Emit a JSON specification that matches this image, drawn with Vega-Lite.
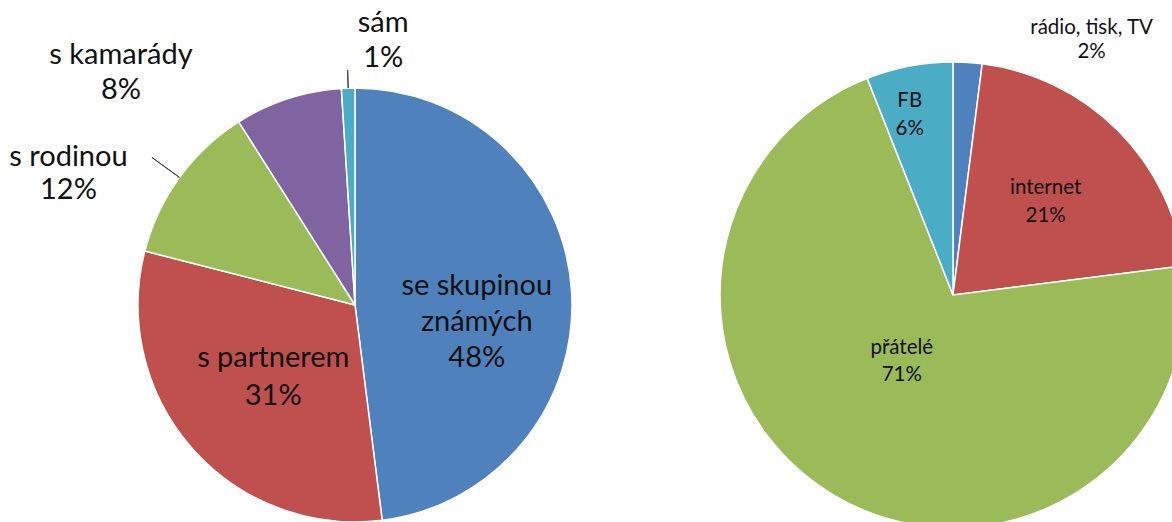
{
  "$schema": "https://vega.github.io/schema/vega-lite/v6.json",
  "padding": 0,
  "spacing": 0,
  "background": "white",
  "config": {"view": {"stroke": null}, "text": {"font": "Lato", "color": "#111111"}},
  "datasets": {
    "left": [
      {"idx": 1, "cat": "se skupinou známých", "value": 48, "label": "se skupinou\nznámých\n48%"},
      {"idx": 2, "cat": "s partnerem", "value": 31, "label": "s partnerem\n31%"},
      {"idx": 3, "cat": "s rodinou", "value": 12, "label": "s rodinou\n12%"},
      {"idx": 4, "cat": "s kamarády", "value": 8, "label": "s kamarády\n8%"},
      {"idx": 5, "cat": "sám", "value": 1, "label": "sám\n1%"}
    ],
    "right": [
      {"idx": 1, "cat": "rádio, tisk, TV", "value": 2, "label": "rádio, tisk, TV\n2%"},
      {"idx": 2, "cat": "internet", "value": 21, "label": "internet\n21%"},
      {"idx": 3, "cat": "přátelé", "value": 71, "label": "přátelé\n71%"},
      {"idx": 4, "cat": "FB", "value": 6, "label": "FB\n6%"}
    ]
  },
  "hconcat": [
    {
      "width": 710,
      "height": 610,
      "data": {"name": "left"},
      "encoding": {
        "theta": {"field": "value", "type": "quantitative", "stack": true},
        "order": {"field": "idx", "type": "quantitative"}
      },
      "layer": [
        {
          "mark": {"type": "arc", "radius": 217, "stroke": "white", "strokeWidth": 1.5},
          "encoding": {
            "color": {"field": "cat", "type": "nominal", "legend": null,
              "scale": {"domain": ["se skupinou známých", "s partnerem", "s rodinou", "s kamarády", "sám"],
                        "range": ["#4F81BD", "#C0504D", "#9BBB59", "#8064A2", "#4BACC6"]}}
          }
        },
        {
          "mark": {"type": "arc", "radius": 251, "radius2": 217, "padAngle": 1, "filled": false, "strokeWidth": 1},
          "encoding": {
            "stroke": {"condition": {"test": "datum.idx === 3", "value": "#404040"}, "value": "transparent"}
          }
        },
        {
          "mark": {"type": "arc", "radius": 235, "radius2": 217, "padAngle": 1, "filled": false, "strokeWidth": 1},
          "encoding": {
            "stroke": {"condition": {"test": "datum.idx === 5", "value": "#404040"}, "value": "transparent"}
          }
        },
        {
          "mark": {"type": "text", "radius": 122, "dy": -11, "fontSize": 29, "lineHeight": 36, "lineBreak": "\n"},
          "encoding": {"text": {"condition": {"test": "datum.idx === 1", "field": "label"}, "value": ""}}
        },
        {
          "mark": {"type": "text", "radius": 109, "dy": -19, "fontSize": 29, "lineHeight": 38, "lineBreak": "\n"},
          "encoding": {"text": {"condition": {"test": "datum.idx === 2", "field": "label"}, "value": ""}}
        },
        {
          "mark": {"type": "text", "radius": 217, "dx": -111, "dy": -20, "fontSize": 29, "lineHeight": 33, "lineBreak": "\n"},
          "encoding": {"text": {"condition": {"test": "datum.idx === 3", "field": "label"}, "value": ""}}
        },
        {
          "mark": {"type": "text", "radius": 217, "dx": -167, "dy": -44, "fontSize": 29, "lineHeight": 35, "lineBreak": "\n"},
          "encoding": {"text": {"condition": {"test": "datum.idx === 4", "field": "label"}, "value": ""}}
        },
        {
          "mark": {"type": "text", "radius": 217, "dx": 35, "dy": -65, "fontSize": 29, "lineHeight": 35, "lineBreak": "\n"},
          "encoding": {"text": {"condition": {"test": "datum.idx === 5", "field": "label"}, "value": ""}}
        }
      ]
    },
    {
      "width": 486,
      "height": 590,
      "data": {"name": "right"},
      "encoding": {
        "theta": {"field": "value", "type": "quantitative", "stack": true},
        "order": {"field": "idx", "type": "quantitative"}
      },
      "layer": [
        {
          "mark": {"type": "arc", "radius": 233, "stroke": "white", "strokeWidth": 1.5},
          "encoding": {
            "color": {"field": "cat", "type": "nominal", "legend": null,
              "scale": {"domain": ["rádio, tisk, TV", "internet", "přátelé", "FB"],
                        "range": ["#4F81BD", "#C0504D", "#9BBB59", "#4BACC6"]}}
          }
        },
        {
          "mark": {"type": "text", "radius": 233, "dx": 124, "dy": -34, "fontSize": 20.5, "lineHeight": 24, "lineBreak": "\n"},
          "encoding": {"text": {"condition": {"test": "datum.idx === 1", "field": "label"}, "value": ""}}
        },
        {
          "mark": {"type": "text", "radius": 131, "dy": -14, "fontSize": 20.5, "lineHeight": 28, "lineBreak": "\n"},
          "encoding": {"text": {"condition": {"test": "datum.idx === 2", "field": "label"}, "value": ""}}
        },
        {
          "mark": {"type": "text", "radius": 77, "dx": -12, "dy": -13, "fontSize": 20.5, "lineHeight": 27, "lineBreak": "\n"},
          "encoding": {"text": {"condition": {"test": "datum.idx === 3", "field": "label"}, "value": ""}}
        },
        {
          "mark": {"type": "text", "radius": 183, "dx": -9, "dy": -14, "fontSize": 20.5, "lineHeight": 28, "lineBreak": "\n"},
          "encoding": {"text": {"condition": {"test": "datum.idx === 4", "field": "label"}, "value": ""}}
        }
      ]
    }
  ],
  "resolve": {"scale": {"color": "independent", "theta": "independent"}}
}
